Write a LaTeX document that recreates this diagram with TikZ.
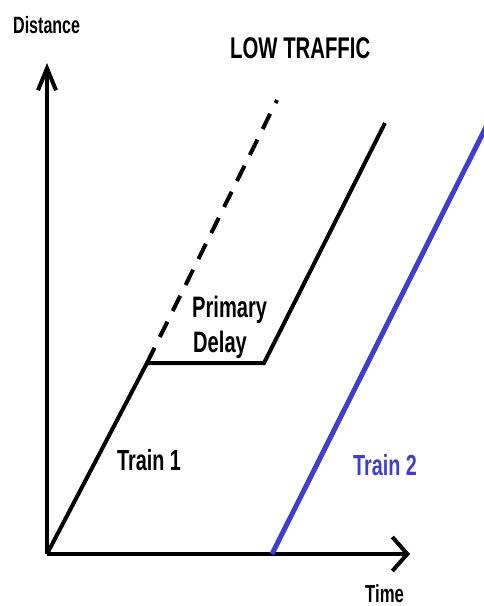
\documentclass[tikz,border=0pt]{standalone}
\usepackage{fontspec}
\setmainfont{Liberation Sans}[FakeStretch=0.68]
\usetikzlibrary{arrows.meta}
\definecolor{trainblue}{RGB}{62,62,212}
\tikzset{
  lbl/.style={inner sep=0pt, anchor=base west, font=\bfseries},
  axis/.style={line width=4.5pt, line cap=butt},
  train/.style={line width=4pt, line join=miter},
  planned/.style={line width=4pt, dash pattern=on 17pt off 12pt},
}
\begin{document}
\begin{tikzpicture}[x=1pt,y=-1pt]
\useasboundingbox (0,0) rectangle (483,606);
% coordinates
\coordinate (O) at (47,554);
\coordinate (Ytop) at (47,63);
\coordinate (Xend) at (410,554);
\coordinate (A) at (147,363);
\coordinate (B) at (264,363);
\coordinate (C) at (385,123);
\coordinate (D) at (277,100);
\coordinate (E) at (272,554);
\coordinate (F) at (490,119);
% axes
\draw[axis, -{Straight Barb[length=22pt,width=18pt,line width=4pt]}] (O) -- (Ytop);
\draw[axis, -{Straight Barb[length=15pt,width=34pt,line width=4pt]}] (O) -- (Xend);
% train 1
\draw[train] (O) -- (A) -- (B) -- (C);
\draw[planned] (A) -- (D);
% train 2
\draw[line width=5pt, trainblue] (E) -- (F);
% labels
\node[lbl, font=\bfseries\fontsize{23.6}{27}\selectfont] (dist) at (13,33) {Distance};
\node[lbl, font=\bfseries\fontsize{29.9}{34}\selectfont] (title) at (230,58) {LOW TRAFFIC};
\node[lbl, font=\bfseries\fontsize{29.6}{34}\selectfont] (prim) at (192,317) {Primary};
\node[lbl, font=\bfseries\fontsize{29.6}{34}\selectfont] (del) at (193,352) {Delay};
\node[lbl, font=\bfseries\fontsize{29.1}{33}\selectfont] (t1) at (117,470) {Train 1};
\node[lbl, font=\bfseries\fontsize{29.1}{33}\selectfont, text=trainblue] (t2) at (353,475) {Train 2};
\node[lbl, font=\bfseries\fontsize{24.6}{28}\selectfont] (time) at (365,602) {Time};
\end{tikzpicture}
\end{document}
